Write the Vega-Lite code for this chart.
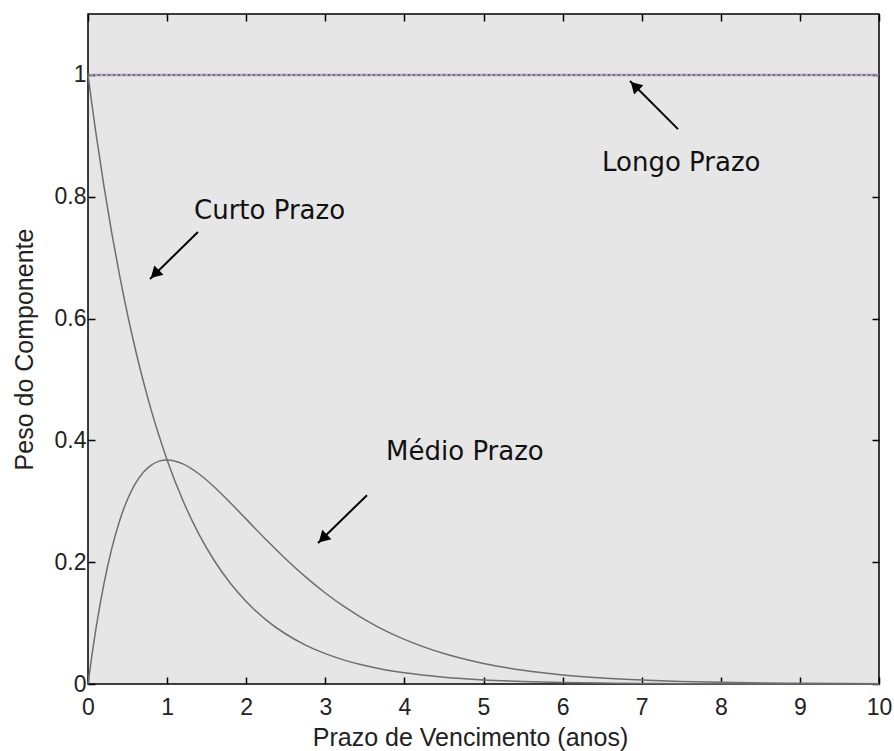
{
  "$schema": "https://vega.github.io/schema/vega-lite/v6.json",
  "width": 791,
  "height": 670,
  "autosize": {"type": "none"},
  "padding": {"left": 88, "top": 14, "right": 15, "bottom": 67},
  "background": "white",
  "config": {
    "view": {"fill": "#e6e6e6", "stroke": "#000000", "strokeWidth": 1.5},
    "axis": {
      "domain": false,
      "grid": false,
      "tickColor": "#000000",
      "tickWidth": 1.5,
      "tickSize": -7,
      "labelFlush": false,
      "labelFont": "Liberation Sans",
      "labelFontSize": 23,
      "labelColor": "#222222",
      "titleFont": "Liberation Sans",
      "titleFontSize": 25,
      "titleFontWeight": "normal",
      "titleColor": "#222222"
    }
  },
  "datasets": {
    "curves": [
      {"t": 0, "curto": 1, "medio": 0},
      {"t": 0.05, "curto": 0.9512, "medio": 0.0476},
      {"t": 0.1, "curto": 0.9048, "medio": 0.0905},
      {"t": 0.2, "curto": 0.8187, "medio": 0.1637},
      {"t": 0.3, "curto": 0.7408, "medio": 0.2222},
      {"t": 0.4, "curto": 0.6703, "medio": 0.2681},
      {"t": 0.5, "curto": 0.6065, "medio": 0.3033},
      {"t": 0.6, "curto": 0.5488, "medio": 0.3293},
      {"t": 0.7, "curto": 0.4966, "medio": 0.3476},
      {"t": 0.8, "curto": 0.4493, "medio": 0.3595},
      {"t": 0.9, "curto": 0.4066, "medio": 0.3659},
      {"t": 1.0, "curto": 0.3679, "medio": 0.3679},
      {"t": 1.2, "curto": 0.3012, "medio": 0.3614},
      {"t": 1.4, "curto": 0.2466, "medio": 0.3452},
      {"t": 1.6, "curto": 0.2019, "medio": 0.3230},
      {"t": 1.8, "curto": 0.1653, "medio": 0.2975},
      {"t": 2.0, "curto": 0.1353, "medio": 0.2707},
      {"t": 2.25, "curto": 0.1054, "medio": 0.2371},
      {"t": 2.5, "curto": 0.0821, "medio": 0.2052},
      {"t": 2.75, "curto": 0.0639, "medio": 0.1758},
      {"t": 3.0, "curto": 0.0498, "medio": 0.1494},
      {"t": 3.25, "curto": 0.0388, "medio": 0.1261},
      {"t": 3.5, "curto": 0.0302, "medio": 0.1057},
      {"t": 3.75, "curto": 0.0235, "medio": 0.0881},
      {"t": 4.0, "curto": 0.0183, "medio": 0.0733},
      {"t": 4.5, "curto": 0.0111, "medio": 0.0500},
      {"t": 5.0, "curto": 0.0067, "medio": 0.0337},
      {"t": 5.5, "curto": 0.0041, "medio": 0.0225},
      {"t": 6.0, "curto": 0.0025, "medio": 0.0149},
      {"t": 6.5, "curto": 0.0015, "medio": 0.0098},
      {"t": 7.0, "curto": 0.0009, "medio": 0.0064},
      {"t": 7.5, "curto": 0.0006, "medio": 0.0041},
      {"t": 8.0, "curto": 0.0003, "medio": 0.0027},
      {"t": 9.0, "curto": 0.0001, "medio": 0.0011},
      {"t": 10.0, "curto": 0, "medio": 0.0005}
    ],
    "longo": [
      {"t": 0, "v": 1},
      {"t": 10, "v": 1}
    ],
    "arrows": [
      {"x": 1.39, "y": 0.742, "x2": 0.784, "y2": 0.665, "cx": 0.845, "cy": 0.673, "angle": 225.6},
      {"x": 3.527, "y": 0.31, "x2": 2.908, "y2": 0.2315, "cx": 2.968, "cy": 0.239, "angle": 225.6},
      {"x": 7.459, "y": 0.911, "x2": 6.852, "y2": 0.99, "cx": 6.912, "cy": 0.982, "angle": 315}
    ],
    "labels": [
      {"x": 1.34, "y": 0.764, "text": "Curto Prazo"},
      {"x": 3.768, "y": 0.368, "text": "Médio Prazo"},
      {"x": 6.498, "y": 0.842, "text": "Longo Prazo"}
    ]
  },
  "layer": [
    {
      "data": {"name": "longo"},
      "mark": {"type": "line", "color": "#a898b0", "strokeWidth": 2.5, "opacity": 0.9},
      "encoding": {
        "x": {"field": "t", "type": "quantitative", "scale": {"domain": [0, 10], "nice": false}, "axis": null},
        "y": {"field": "v", "type": "quantitative", "scale": {"domain": [0, 1.1], "nice": false, "zero": false}, "axis": null}
      }
    },
    {
      "data": {"name": "longo"},
      "mark": {"type": "line", "color": "#6a6a9a", "strokeWidth": 2, "strokeDash": [2, 3]},
      "encoding": {
        "x": {"field": "t", "type": "quantitative", "axis": null},
        "y": {"field": "v", "type": "quantitative", "axis": null}
      }
    },
    {
      "data": {"name": "curves"},
      "mark": {"type": "line", "color": "#6e6e6e", "strokeWidth": 1.5, "interpolate": "monotone"},
      "encoding": {
        "x": {"field": "t", "type": "quantitative", "axis": {"orient": "bottom", "values": [0, 1, 2, 3, 4, 5, 6, 7, 8, 9, 10], "labelPadding": 19, "title": "Prazo de Vencimento (anos)", "titleX": 382, "titleY": 61, "titleBaseline": "alphabetic", "titleAlign": "center"}},
        "y": {"field": "curto", "type": "quantitative", "axis": {"orient": "left", "values": [0, 0.2, 0.4, 0.6, 0.8, 1], "format": "~g", "labelPadding": 9, "title": "Peso do Componente", "titleX": -56, "titleY": 335, "titleAngle": -90, "titleBaseline": "alphabetic", "titleAlign": "center"}}
      }
    },
    {
      "data": {"name": "curves"},
      "mark": {"type": "line", "color": "#6e6e6e", "strokeWidth": 1.5, "interpolate": "monotone"},
      "encoding": {
        "x": {"field": "t", "type": "quantitative", "axis": {"orient": "top", "values": [0, 1, 2, 3, 4, 5, 6, 7, 8, 9, 10], "labels": false, "title": null}},
        "y": {"field": "medio", "type": "quantitative", "axis": {"orient": "right", "values": [0, 0.2, 0.4, 0.6, 0.8, 1], "labels": false, "title": null}}
      }
    },
    {
      "data": {"name": "arrows"},
      "mark": {"type": "rule", "color": "#000000", "strokeWidth": 2},
      "encoding": {
        "x": {"field": "x", "type": "quantitative", "axis": null},
        "y": {"field": "y", "type": "quantitative", "axis": null},
        "x2": {"field": "x2"},
        "y2": {"field": "y2"}
      }
    },
    {
      "data": {"name": "arrows"},
      "mark": {"type": "point", "shape": "triangle-up", "filled": true, "color": "#000000", "size": 170, "opacity": 1},
      "encoding": {
        "x": {"field": "cx", "type": "quantitative", "axis": null},
        "y": {"field": "cy", "type": "quantitative", "axis": null},
        "angle": {"field": "angle", "type": "quantitative", "scale": null}
      }
    },
    {
      "data": {"name": "labels"},
      "mark": {"type": "text", "align": "left", "baseline": "alphabetic", "font": "DejaVu Sans", "fontSize": 26, "color": "#111111"},
      "encoding": {
        "x": {"field": "x", "type": "quantitative", "axis": null},
        "y": {"field": "y", "type": "quantitative", "axis": null},
        "text": {"field": "text"}
      }
    }
  ],
  "resolve": {"axis": {"x": "independent", "y": "independent"}}
}
